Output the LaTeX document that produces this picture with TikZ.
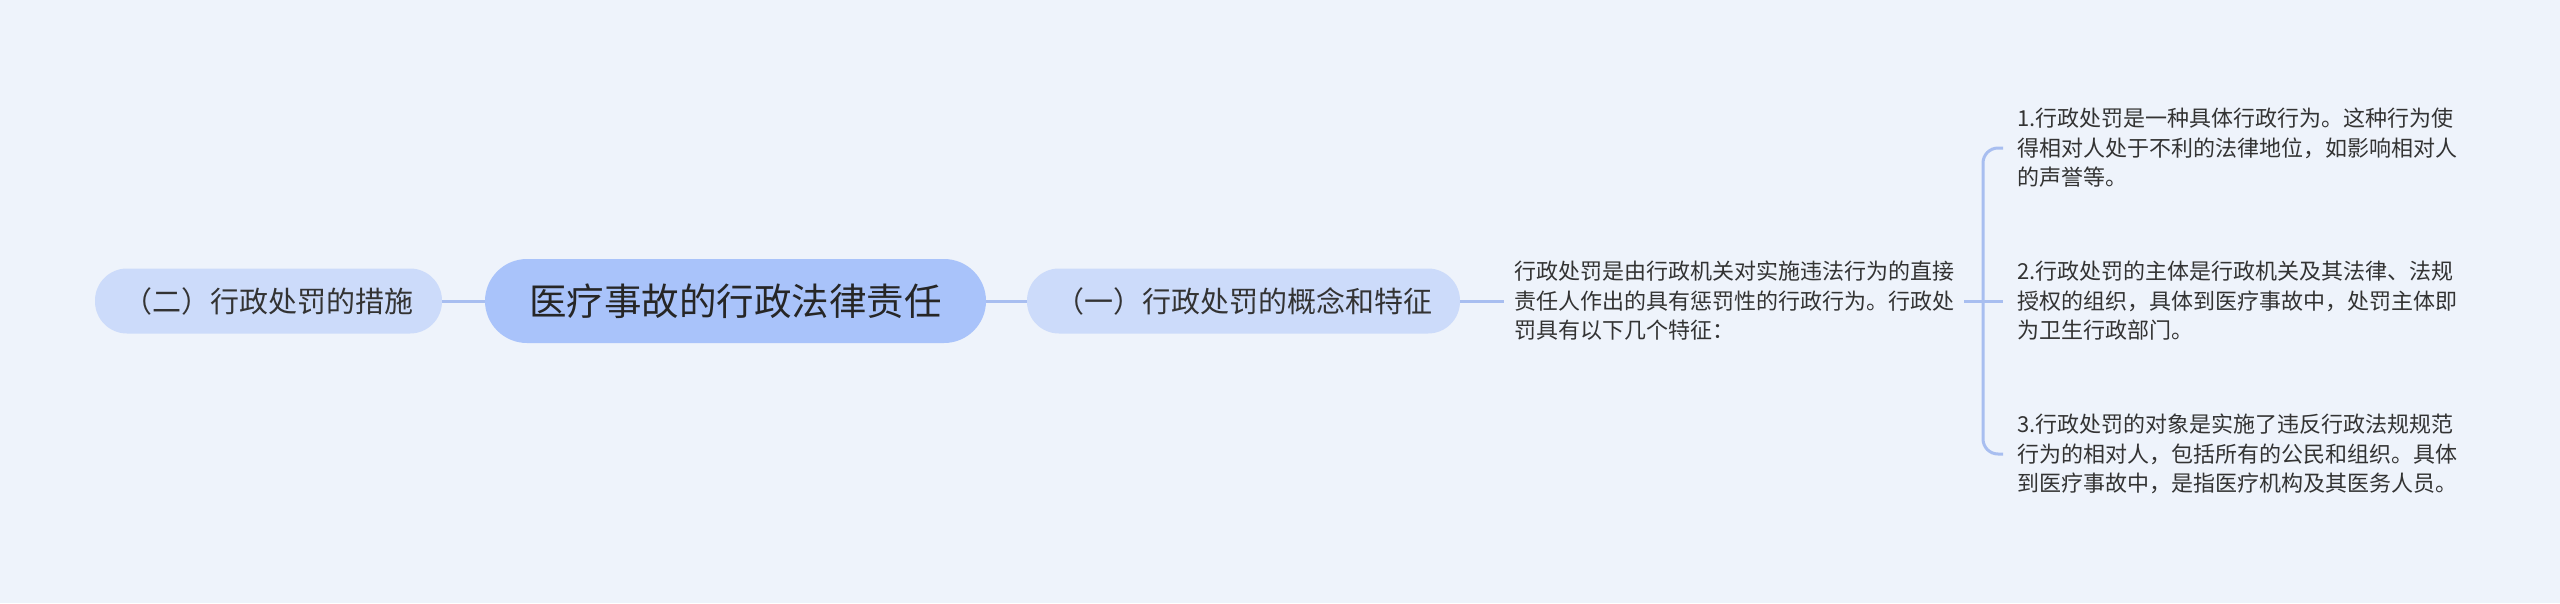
\documentclass[tikz,border=0pt]{standalone}
\usepackage{fontspec}
\setmainfont{Noto Sans CJK SC}
\definecolor{bg}{HTML}{EEF3FB}
\definecolor{rootfill}{HTML}{A9C3FA}
\definecolor{childfill}{HTML}{CCDBFA}
\definecolor{linec}{HTML}{A8BEF0}
\definecolor{txt}{HTML}{333333}
\tikzset{
  rootbox/.style={fill=rootfill, rounded corners=42pt, minimum width=501pt, minimum height=84pt, inner sep=0pt, text=black!85, font=\fontsize{37.5}{45}\selectfont},
  childbox/.style={fill=childfill, rounded corners=32pt, minimum height=65pt, inner sep=0pt, text=txt, font=\fontsize{29}{35}\selectfont},
  desctext/.style={align=left, inner xsep=10pt, inner ysep=0pt, text=txt, font=\fontsize{22}{29.5}\selectfont},
  leaftext/.style={align=left, inner xsep=14pt, inner ysep=0pt, anchor=west, text=txt, font=\fontsize{22}{29.5}\selectfont},
  conn/.style={draw=linec, line width=3pt}
}
\begin{document}
\begin{tikzpicture}[x=1pt,y=-1pt]
\useasboundingbox (0,0) rectangle (2560,603);
\fill[bg] (0,0) rectangle (2560,603);
\node[rootbox] (root) at (735.5,301) {医疗事故的行政法律责任};
\node[childbox, minimum width=347pt] (c2) at (268.5,301) {（二）行政处罚的措施};
\node[childbox, minimum width=433pt] (c1) at (1243.5,301) {（一）行政处罚的概念和特征};
\node[desctext, anchor=west] (desc) at (1504,301) {行政处罚是由行政机关对实施违法行为的直接\\责任人作出的具有惩罚性的行政行为。行政处\\罚具有以下几个特征：};
\node[leaftext] (l1) at (2003,148) {1.行政处罚是一种具体行政行为。这种行为使\\得相对人处于不利的法律地位，如影响相对人\\的声誉等。};
\node[leaftext] (l2) at (2003,301) {2.行政处罚的主体是行政机关及其法律、法规\\授权的组织，具体到医疗事故中，处罚主体即\\为卫生行政部门。};
\node[leaftext] (l3) at (2003,454) {3.行政处罚的对象是实施了违反行政法规规范\\行为的相对人，包括所有的公民和组织。具体\\到医疗事故中，是指医疗机构及其医务人员。};
\draw[conn] (c2.east) -- (root.west);
\draw[conn] (root.east) -- (c1.west);
\draw[conn] (c1.east) -- (desc.west);
\draw[conn] (desc.east) -- (l2.west);
\draw[conn, rounded corners=15pt] (l1.west) -| (1983,301) |- (l3.west);
\end{tikzpicture}
\end{document}
